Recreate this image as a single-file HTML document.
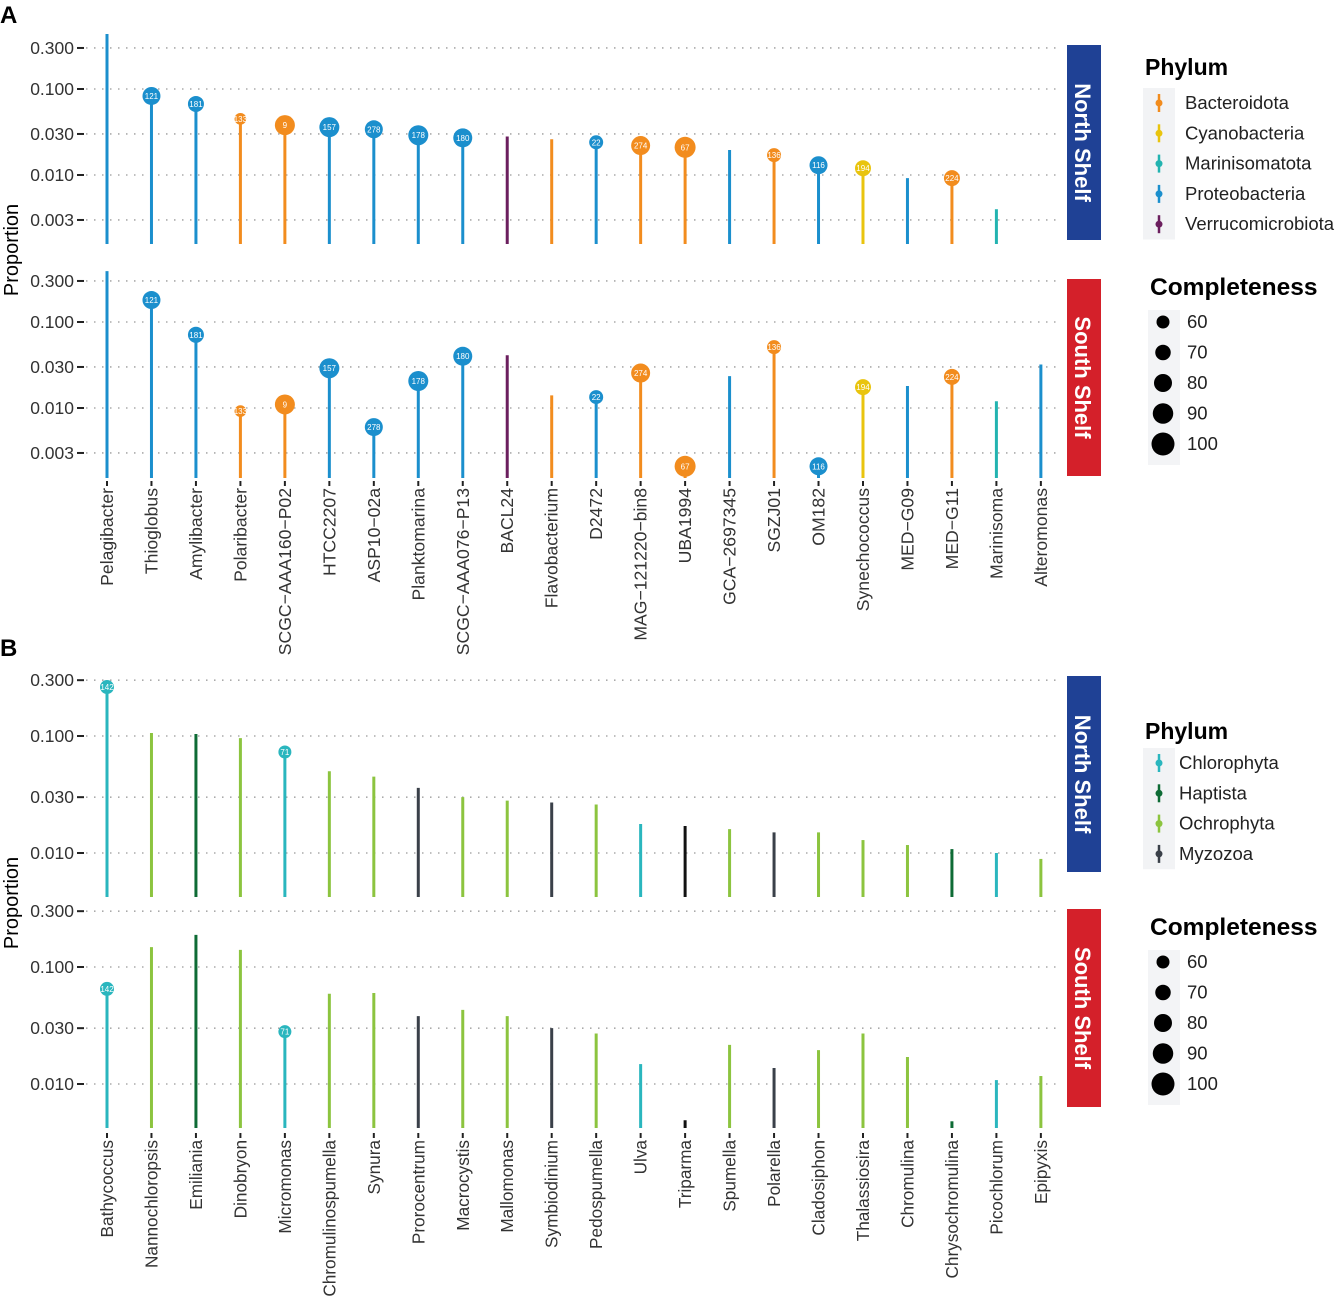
<!DOCTYPE html>
<html><head><meta charset="utf-8"><style>
body{margin:0;background:#fff;}
svg{display:block;font-family:"Liberation Sans",sans-serif;}
</style></head><body>
<svg id="fig" width="1338" height="1298" viewBox="0 0 1338 1298" xmlns="http://www.w3.org/2000/svg">
<text x="0" y="23" font-size="24" font-weight="bold">A</text>
<text x="0" y="656" font-size="24" font-weight="bold">B</text>
<text transform="translate(18,250) rotate(-90)" text-anchor="middle" font-size="20">Proportion</text>
<text transform="translate(18,903) rotate(-90)" text-anchor="middle" font-size="20">Proportion</text>
<g id="plots"></g>
</svg>
<script>
// ---- Panel A data ----
const catsA = ["Pelagibacter","Thioglobus","Amylibacter","Polaribacter","SCGC\u2212AAA160\u2212P02","HTCC2207","ASP10\u221202a","Planktomarina","SCGC\u2212AAA076\u2212P13","BACL24","Flavobacterium","D2472","MAG\u2212121220\u2212bin8","UBA1994","GCA\u22122697345","SGZJ01","OM182","Synechococcus","MED\u2212G09","MED\u2212G11","Marinisoma","Alteromonas"];
const phylaA = ["P","P","P","B","B","P","P","P","P","V","B","P","B","B","P","B","P","C","P","B","M","P"];
const northA = [0.436,0.083,0.067,0.045,0.038,0.036,0.034,0.029,0.027,0.028,0.026,0.024,0.022,0.021,0.0195,0.017,0.013,0.012,0.0092,0.0092,0.004,null];
const southA = [0.39,0.18,0.071,0.0092,0.011,0.029,0.006,0.0206,0.040,0.041,0.014,0.0134,0.0255,0.0021,0.0235,0.051,0.0021,0.0175,0.018,0.023,0.012,0.032];
const idsA = ["","121","181","133","9","157","278","178","180","","","22","274","67","","136","116","194","","224","",""];
const complA = [null,80,72,55,88,88,80,88,84,null,null,64,84,92,null,64,80,72,null,72,null,null];
// ---- Panel B data ----
const catsB = ["Bathycoccus","Nannochloropsis","Emiliania","Dinobryon","Micromonas","Chromulinospumella","Synura","Prorocentrum","Macrocystis","Mallomonas","Symbiodinium","Pedospumella","Ulva","Triparma","Spumella","Polarella","Cladosiphon","Thalassiosira","Chromulina","Chrysochromulina","Picochlorum","Epipyxis"];
const phylaB = ["Ch","O","H","O","Ch","O","O","Z","O","O","Z","O","Ch","K","O","Z","O","O","O","H","Ch","O"];
const northB = [0.262,0.106,0.104,0.096,0.073,0.050,0.045,0.036,0.030,0.028,0.027,0.026,0.0177,0.017,0.016,0.015,0.015,0.0129,0.0117,0.0108,0.010,0.0089];
const southB = [0.065,0.148,0.188,0.14,0.028,0.059,0.060,0.038,0.043,0.038,0.030,0.027,0.0148,0.0049,0.0216,0.0137,0.0195,0.027,0.017,0.0048,0.0108,0.0117];
const idsB = ["142","","","","71","","","","","","","","","","","","","","","","",""];
const complB = [64,null,null,null,60,null,null,null,null,null,null,null,null,null,null,null,null,null,null,null,null,null];
const ticks = [0.3,0.1,0.03,0.01,0.003];
const tickLabels = ["0.300","0.100","0.030","0.010","0.003"];

const colors = {P:"#1b8fcd",B:"#f28c1e",C:"#e9c40e",M:"#22b3b0",V:"#6b1f5e",Ch:"#2ab6be",O:"#8cc43f",H:"#0e6b35",Z:"#3a4049",K:"#111111"};
const NS="http://www.w3.org/2000/svg";
const root=document.getElementById('plots');
function mk(tag,attrs,parent){const e=document.createElementNS(NS,tag);for(const k in attrs)e.setAttribute(k,attrs[k]);(parent||root).appendChild(e);return e;}
const xPos=i=>107+i*44.47;
const radius=c=>6.5+(c-60)*0.125;

function panel(vals,cats,phyla,ids,compl,y01,dec,base,yTop,ticksShown,name){
  const yS=v=>y01-dec*(Math.log10(v)+1);
  const g=mk('g',{});
  
  
  ticksShown.forEach(t=>{
    const y=yS(ticks[t]);
    if(y<yTop-2)return;
    const gl=mk('line',{x1:86,x2:1062,y1:y,y2:y,stroke:"#aaa","stroke-width":1.6,"stroke-dasharray":"1.5 6.5"},g);
    
    
    mk('line',{x1:77,x2:84,y1:y,y2:y,stroke:"#222","stroke-width":2},g);
    const tl=mk('text',{x:74,y:y+6,"text-anchor":"end","font-size":17.5,fill:"#333"},g);
    tl.textContent=tickLabels[t];
    
    
  });
  vals.forEach((v,i)=>{
    if(v==null)return;
    const x=xPos(i), y=yS(v), col=colors[phyla[i]];
    const st=mk('line',{x1:x,x2:x,y1:base,y2:y,stroke:col,"stroke-width":3},g);
    
    
    if(compl[i]!=null){
      const c=mk('circle',{cx:x,cy:y,r:radius(compl[i]),fill:col},g);
      
      
      const t=mk('text',{x:x,y:y+3,"text-anchor":"middle","font-size":8,fill:"#fff"},g);
      t.textContent=ids[i];
    }
  });
}
function xlabels(cats,y,fs,name){
  cats.forEach((c,i)=>{
    const x=xPos(i);
    mk('line',{x1:x,x2:x,y1:y-7,y2:y-2,stroke:"#222","stroke-width":2});
    const t=mk('text',{transform:`translate(${x+6},${y}) rotate(-90)`,"text-anchor":"end","font-size":fs,fill:"#333"});
    t.textContent=c;
    
    
  });
}
panel(northA,catsA,phylaA,idsA,complA,89,86,244,30,[0,1,2,3,4],'panel-a-north');
panel(southA,catsA,phylaA,idsA,complA,322,86,478,262,[0,1,2,3,4],'panel-a-south');
xlabels(catsA,488,17.6,'a');
panel(northB,catsB,phylaB,idsB,complB,736,117,897,670,[0,1,2,3],'panel-b-north');
panel(southB,catsB,phylaB,idsB,complB,967,117,1128,902,[0,1,2,3],'panel-b-south');
xlabels(catsB,1140,17.2,'b');

function strip(y,h,col,txt,name){
  const r=mk('rect',{x:1067,y:y,width:34,height:h,fill:col});
  
  
  const t=mk('text',{transform:`translate(1075,${y+h/2}) rotate(90)`,"text-anchor":"middle","font-size":22,"font-weight":"bold",fill:"#fff"});
  t.textContent=txt;
}
strip(45,195,"#1f4195","North Shelf",'strip-a-north');
strip(279,197,"#d4202a","South Shelf",'strip-a-south');
strip(676,196,"#1f4195","North Shelf",'strip-b-north');
strip(909,198,"#d4202a","South Shelf",'strip-b-south');

function legend(ty,items,cy,compY,tx0){
  const t=mk('text',{x:1145,y:ty,"font-size":23,"font-weight":"bold"});t.textContent="Phylum";
  
  mk('rect',{x:1143,y:cy-15,width:32,height:items.length*30.3,fill:"#f2f3f5"});
  items.forEach((it,i)=>{
    const y=cy+i*30.3;
    mk('line',{x1:1159,x2:1159,y1:y-9,y2:y+9,stroke:colors[it[0]],"stroke-width":2.5});
    mk('circle',{cx:1159,cy:y,r:3.5,fill:colors[it[0]]});
    const tx=mk('text',{x:tx0,y:y+6,"font-size":18.5,fill:"#222"});tx.textContent=it[1];
    
  });
  const c=mk('text',{x:1150,y:compY,"font-size":24.5,"font-weight":"bold"});c.textContent="Completeness";
  
  mk('rect',{x:1148,y:compY+15,width:32,height:155,fill:"#f3f4f6"});
  [60,70,80,90,100].forEach((v,i)=>{
    const y=compY+27+i*30.5;
    mk('circle',{cx:1163,cy:y,r:radius(v),fill:"#000"});
    const tx=mk('text',{x:1187,y:y+6,"font-size":18.5,fill:"#222"});tx.textContent=v;
    
  });
}
legend(75,[["B","Bacteroidota"],["C","Cyanobacteria"],["M","Marinisomatota"],["P","Proteobacteria"],["V","Verrucomicrobiota"]],103,295,1185);
legend(739,[["Ch","Chlorophyta"],["H","Haptista"],["O","Ochrophyta"],["Z","Myzozoa"]],763,935,1179);
</script>
</body></html>
